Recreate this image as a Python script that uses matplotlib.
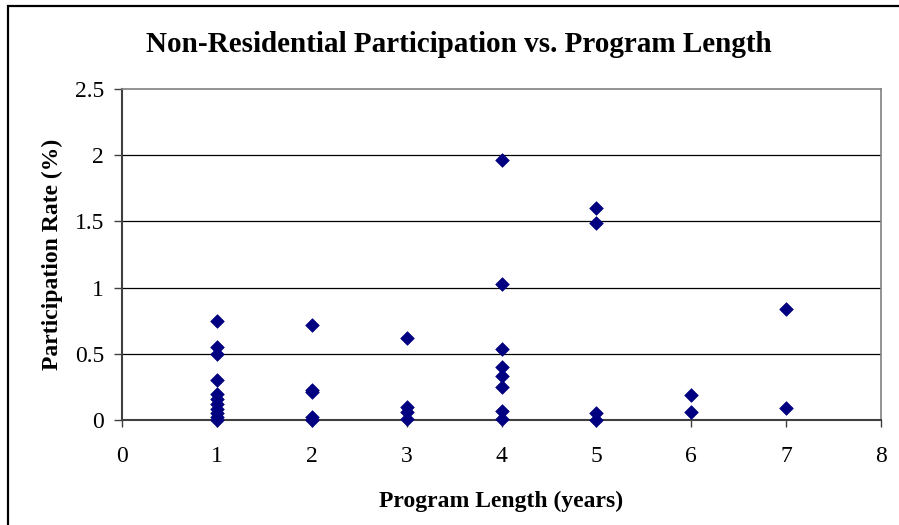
import matplotlib
matplotlib.use('Agg')
import matplotlib.pyplot as plt
from matplotlib.patches import Rectangle

# Data
length_years = [1, 1, 1, 1, 1, 1, 1, 1, 1, 1, 1,
                2, 2, 2, 2, 2,
                3, 3, 3, 3,
                4, 4, 4, 4, 4, 4, 4, 4,
                5, 5, 5, 5,
                6, 6,
                7, 7]
participation = [0.75, 0.55, 0.50, 0.30, 0.20, 0.16, 0.12, 0.08, 0.05, 0.02, 0.0,
                 0.72, 0.23, 0.21, 0.02, 0.0,
                 0.62, 0.10, 0.06, 0.01,
                 1.96, 1.03, 0.54, 0.40, 0.33, 0.25, 0.07, 0.01,
                 1.60, 1.49, 0.05, 0.0,
                 0.19, 0.06,
                 0.84, 0.09]
x_ticks = [0, 1, 2, 3, 4, 5, 6, 7, 8]
y_ticks = [0, 0.5, 1, 1.5, 2, 2.5]
y_tick_labels = ['0', '0.5', '1', '1.5', '2', '2.5']

plt.rcParams['font.family'] = ['Liberation Serif', 'DejaVu Serif']

fig = plt.figure(figsize=(8.99, 5.25), dpi=100)
ax = fig.add_axes([122 / 899, 1 - 420 / 525, (881 - 122) / 899, (420 - 89) / 525])

# outer chart border (cut off at right and bottom in the reference)
fig.patches.append(Rectangle((8 / 899, -0.1), 1.2, 1 - 6 / 525 + 0.1,
                             transform=fig.transFigure, fill=False,
                             edgecolor='black', linewidth=1.6))

ax.scatter(length_years, participation, marker='D', s=48, color='#000080',
           edgecolors='#000080', linewidths=0.5, zorder=3, clip_on=False)

ax.set_xlim(0, 8)
ax.set_ylim(0, 2.5)
ax.set_xticks(x_ticks)
ax.set_yticks(y_ticks)
ax.set_yticklabels(y_tick_labels)

for y in y_ticks[1:-1]:
    ax.axhline(y, color='black', linewidth=0.9, zorder=1)

for side in ['left', 'bottom']:
    ax.spines[side].set_color('#404040')
    ax.spines[side].set_linewidth(1.5)
for side in ['top', 'right']:
    ax.spines[side].set_color('#808080')
    ax.spines[side].set_linewidth(1.2)

ax.tick_params(axis='x', direction='out', length=5, width=1, color='#404040',
               labelsize=17, pad=14)
ax.tick_params(axis='y', direction='out', length=6, width=1, color='#404040',
               labelsize=17, pad=7)

ax.set_xlabel('Program Length (years)', fontsize=17, fontweight='bold', labelpad=17)
ax.set_ylabel('Participation Rate (%)', fontsize=17, fontweight='bold', labelpad=8)
fig.text(459 / 899, 1 - 45 / 525, 'Non-Residential Participation vs. Program Length',
         fontsize=21, fontweight='bold', ha='center', va='center')

fig.savefig('out.png', dpi=100)
